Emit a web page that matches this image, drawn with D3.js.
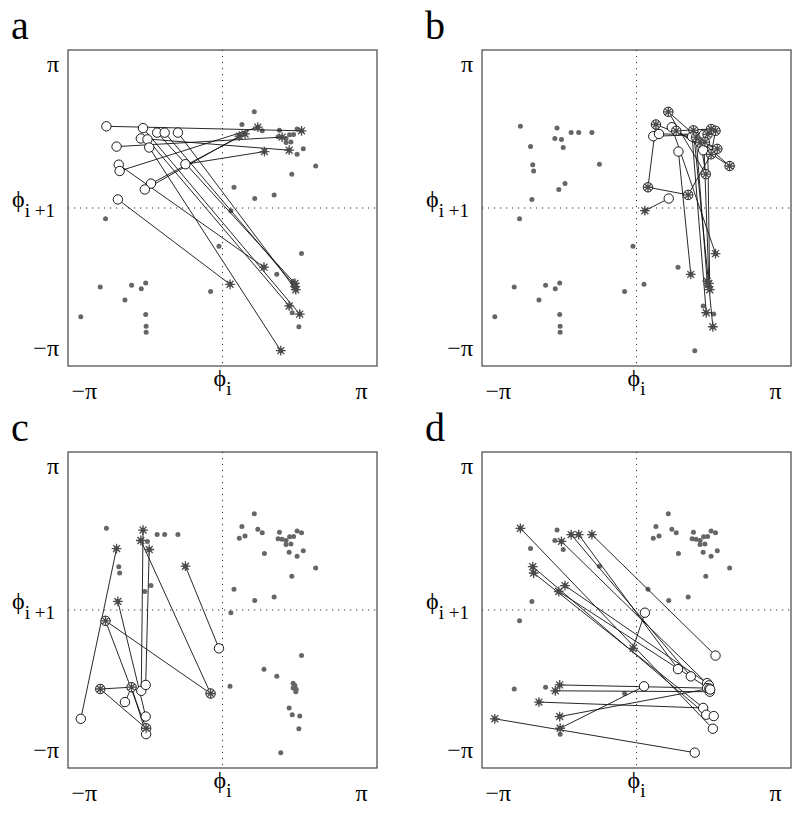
<!DOCTYPE html>
<html><head><meta charset="utf-8">
<script src="https://cdn.jsdelivr.net/npm/d3@7"></script>
<style>body{margin:0;background:#fff}</style>
</head><body>
<svg id="chart" width="800" height="819"></svg>
<script>
// ---- data: return-map points (phi_i, phi_i+1), grouped by quadrant ----
const tlPoints = [
 ["L1",-2.63,1.81],["L2",-1.80,1.77],["L3",-1.85,1.54],["L4",-1.70,1.52],["L5",-1.48,1.67],
 ["L6",-1.31,1.67],["L7",-1.01,1.67],["L8",-2.40,1.36],["L9",-1.66,1.34],["L10",-2.35,0.96],
 ["L11",-2.33,0.82],["L12",-0.84,0.97],["L13",-1.62,0.54],["L14",-1.76,0.41],["L15",-2.37,0.19]];
const trPoints = [
 ["T1",0.72,2.13],["T2",0.44,1.85],["T3",0.80,1.79],["T4",0.90,1.71],["T5",0.38,1.59],
 ["T6",0.51,1.64],["T7",1.29,1.72],["T8",1.26,1.58],["T9",1.35,1.57],["T10",1.44,1.54],
 ["T11",1.52,1.62],["T12",1.61,1.63],["T13",1.69,1.75],["T14",1.79,1.71],["T15",1.44,1.45],
 ["T16",1.55,1.46],["T17",1.51,1.28],["T18",1.69,1.19],["T19",1.83,1.31],["T20",2.11,0.93],
 ["T21",1.57,0.75],["T22",0.26,0.46],["T23",0.73,0.21],["T24",1.17,0.29],["T25",0.95,1.25]];
const blPoints = [
 ["B1",-3.21,-2.41],["B2",-2.77,-1.75],["B3",-2.65,-0.24],["B4",-2.06,-1.71],["B5",-1.84,-1.79],
 ["B6",-1.74,-1.66],["B7",-2.21,-2.04],["B8",-1.74,-2.36],["B9",-1.73,-2.62],["B10",-1.73,-2.75],
 ["B11",-0.08,-0.85],["B12",-0.27,-1.85]];
const brPoints = [
 ["R0",0.19,-0.06],["R1",1.79,-1.01],["R2",0.94,-1.31],["R3",1.23,-1.47],["R4",0.17,-1.69],
 ["R5",1.60,-1.62],["R6",1.64,-1.67],["R7",1.60,-1.73],["R8",1.66,-1.81],["R9",1.51,-2.17],
 ["R10",1.58,-2.32],["R11",1.75,-2.35],["R12",1.73,-2.63],["R13",1.32,-3.16],["R14",1.65,-1.74],
 ["R15",1.67,-1.76]];

// transitions: circle (from) -> asterisk (to)
const linksA = [["L1","T14"],["L2","R11"],["L3","T17"],["L4","R9"],["L5","R6"],["L6","R14"],["L7","R8"],
 ["L8","T9"],["L9","R13"],["L10","R2"],["L11","T3"],["L12","T25"],["L13","T6"],["L14","T5"],["L15","R4"]];
const linksB = [["T1","T20"],["T2","T19"],["T3","R1"],["T4","T13"],["T5","T12"],["T6","T12"],["T7","R12"],
 ["T8","R10"],["T9","R5"],["T10","T21"],["T11","R6"],["T12","R8"],["T13","T14"],["T14","T18"],["T15","T16"],
 ["T16","T15"],["T17","T7"],["T18","T24"],["T19","T9"],["T20","T4"],["T21","T1"],["T22","T2"],["T23","R0"],
 ["T24","T22"],["T25","R3"]];
const linksC = [["B1","L8"],["B2","B9"],["B3","B12"],["B4","B2"],["B5","L2"],["B6","L9"],["B7","B4"],
 ["B8","L15"],["B9","B3"],["B10","B4"],["B11","L12"],["B12","L3"]];
const linksD = [["R0","B11"],["R1","L7"],["R2","L6"],["R3","L5"],["R4","B9"],["R5","L13"],["R6","L4"],
 ["R7","B6"],["R8","B5"],["R9","B7"],["R10","L10"],["R11","L11"],["R12","L1"],["R13","B1"],["R14","B8"],["R15","L14"]];

const panelLetters = ["a","b","c","d"];
const tickValues = [-Math.PI, Math.PI];
const tickLabels = ["\u2212\u03c0","\u03c0"];
const axisDomain = [-3.5, 3.5];

// ---- drawing ----
const allPoints = [...tlPoints, ...trPoints, ...blPoints, ...brPoints];
const pt = new Map(allPoints.map(d => [d[0], [d[1], d[2]]]));
const svg = d3.select("#chart");
const FONT = "'Liberation Serif','Times New Roman',serif";
const PW = 309, PH = 316;
const layout = [
  {left:68, top:50, links:linksA},
  {left:482, top:50, links:linksB},
  {left:68, top:452, links:linksC},
  {left:482, top:452, links:linksD}];

function starPath(r){
  const k = r*0.7071;
  return `M${-r},0L${r},0M0,${-r}L0,${r}M${-k},${-k}L${k},${k}M${-k},${k}L${k},${-k}`;
}

layout.forEach((p, i) => {
  const xs = d3.scaleLinear().domain(axisDomain).range([p.left, p.left+PW]);
  const ys = d3.scaleLinear().domain(axisDomain).range([p.top+PH, p.top]);
  const g = svg.append("g");

  // dotted zero lines
  g.append("line").attr("x1", xs(0)).attr("x2", xs(0)).attr("y1", p.top).attr("y2", p.top+PH)
    .attr("stroke","#333").attr("stroke-width",1).attr("stroke-dasharray","1.2,4.8");
  g.append("line").attr("y1", ys(0)).attr("y2", ys(0)).attr("x1", p.left).attr("x2", p.left+PW)
    .attr("stroke","#333").attr("stroke-width",1).attr("stroke-dasharray","1.2,4.8");

  // grey points
  g.selectAll("circle.dot").data(allPoints).join("circle").attr("class","dot")
    .attr("cx", d => xs(d[1])).attr("cy", d => ys(d[2])).attr("r", 2.5).attr("fill", "#666");

  // transition lines
  g.selectAll("line.link").data(p.links).join("line").attr("class","link")
    .attr("x1", d => xs(pt.get(d[0])[0])).attr("y1", d => ys(pt.get(d[0])[1]))
    .attr("x2", d => xs(pt.get(d[1])[0])).attr("y2", d => ys(pt.get(d[1])[1]))
    .attr("stroke","#111").attr("stroke-width",0.9);

  // open circles at start points
  const starts = [...new Set(p.links.map(d => d[0]))];
  g.selectAll("circle.start").data(starts).join("circle").attr("class","start")
    .attr("cx", d => xs(pt.get(d)[0])).attr("cy", d => ys(pt.get(d)[1])).attr("r", 4.7)
    .attr("fill","#fff").attr("stroke","#000").attr("stroke-width",0.9);

  // asterisks at end points
  const ends = [...new Set(p.links.map(d => d[1]))];
  g.selectAll("path.end").data(ends).join("path").attr("class","end")
    .attr("transform", d => `translate(${xs(pt.get(d)[0])},${ys(pt.get(d)[1])})`)
    .attr("d", starPath(4.9)).attr("fill","none").attr("stroke","#4a4a4a").attr("stroke-width",1.3);

  // frame
  g.append("rect").attr("x", p.left).attr("y", p.top).attr("width", PW).attr("height", PH)
    .attr("fill","none").attr("stroke","#444").attr("stroke-width",1.2);

  // axes tick labels
  const xAxis = d3.axisBottom(xs).tickValues(tickValues).tickFormat((d,j) => tickLabels[j])
    .tickSize(0).tickPadding(16);
  const xg = g.append("g").attr("transform", `translate(0,${p.top+PH})`).call(xAxis);
  xg.select(".domain").remove();
  xg.selectAll("text").attr("font-family", FONT).attr("font-size", 24).attr("fill","#000");

  const yAxis = d3.axisLeft(ys).tickValues(tickValues).tickFormat((d,j) => tickLabels[j])
    .tickSize(0).tickPadding(9);
  const yg = g.append("g").attr("transform", `translate(${p.left},0)`).call(yAxis);
  yg.select(".domain").remove();
  yg.selectAll("text").attr("font-family", FONT).attr("font-size", 24).attr("fill","#000").attr("dy","0.22em");

  // axis titles
  const xt = g.append("text").attr("x", xs(0)).attr("y", p.top+PH+20).attr("text-anchor","middle")
    .attr("font-family", FONT).attr("font-size", 24).attr("fill","#000");
  xt.append("tspan").text("\u03d5");
  xt.append("tspan").attr("dy", 9).attr("font-size", 19).text("i");

  const yt = g.append("text").attr("x", p.left-56).attr("y", ys(0)-1)
    .attr("font-family", FONT).attr("font-size", 24).attr("fill","#000");
  yt.append("tspan").text("\u03d5");
  yt.append("tspan").attr("dy", 10).attr("font-size", 19).text("i +1");

  // panel letter
  svg.append("text").attr("x", p.left-57).attr("y", p.top-11)
    .attr("font-family", FONT).attr("font-size", 40).attr("fill","#000").text(panelLetters[i]);
});
</script>
</body></html>
